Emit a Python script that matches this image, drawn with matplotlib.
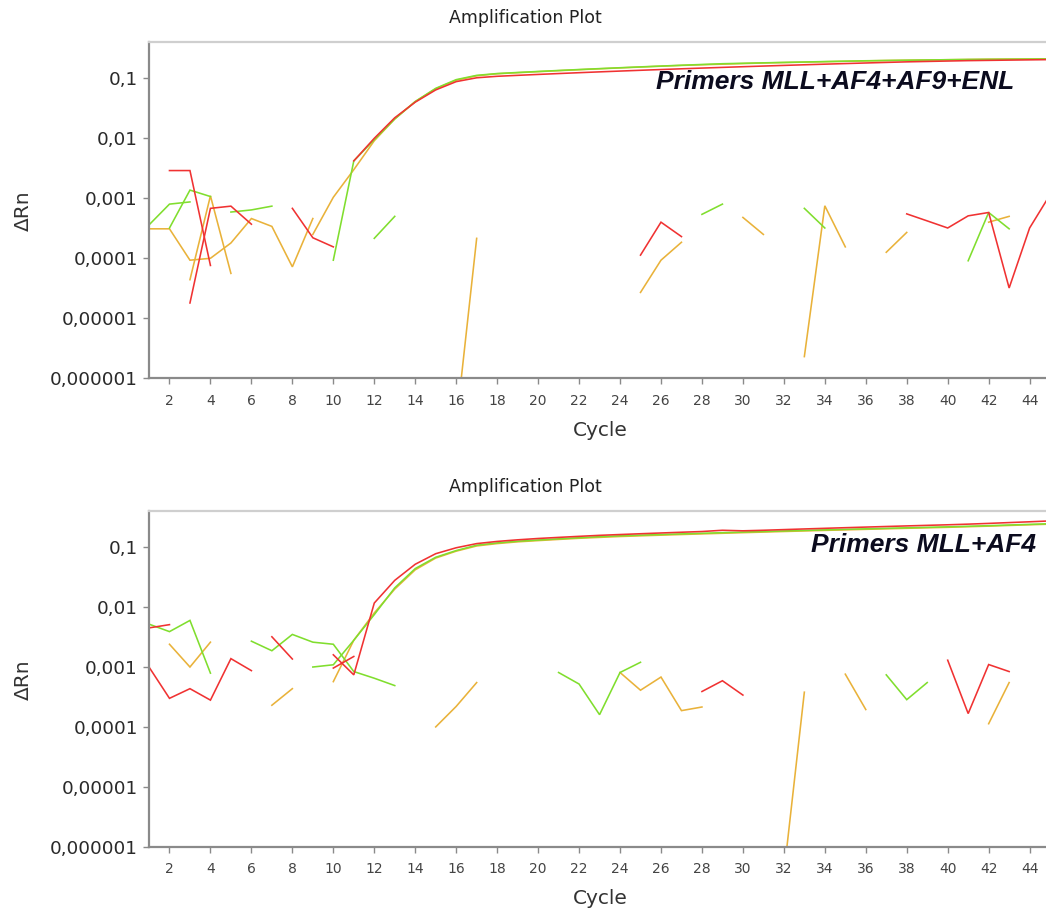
import numpy as np
import matplotlib
matplotlib.use("Agg")
import matplotlib.pyplot as plt
from matplotlib.ticker import FixedLocator, NullLocator, FixedFormatter

NA = None
cycles = list(range(1, 46))
x_ticks = list(range(2, 45, 2))
y_ticks = [1e-6, 1e-5, 1e-4, 1e-3, 1e-2, 1e-1]
y_tick_labels = ["0,000001", "0,00001", "0,0001", "0,001", "0,01", "0,1"]
plot_title = "Amplification Plot"
x_label = "Cycle"
y_label = "ΔRn"
panel_notes = ["Primers MLL+AF4+AF9+ENL", "Primers MLL+AF4"]

# ---------------- top panel (MLL+AF4+AF9+ENL) ----------------
top_red_1 = [NA, 2.9e-3, 2.9e-3, 7.6e-5, NA, NA, NA, NA, NA, NA,
             NA, NA, NA, NA, NA, NA, NA, NA, NA, NA,
             NA, NA, NA, NA, 1.13e-4, 4.0e-4, 2.3e-4, NA, NA, NA,
             NA, NA, NA, NA, NA, NA, NA, NA, NA, NA,
             NA, NA, NA, NA, NA]
top_red_2 = [NA, NA, 1.8e-5, 6.8e-4, 7.4e-4, 3.7e-4, NA, 6.8e-4, 2.2e-4, 1.55e-4,
             NA, NA, NA, NA, NA, NA, NA, NA, NA, NA,
             NA, NA, NA, NA, NA, NA, NA, NA, NA, NA,
             NA, NA, NA, NA, NA, NA, NA, 5.5e-4, 4.2e-4, 3.2e-4,
             5.1e-4, 5.8e-4, 3.2e-5, 3.2e-4, 1.15e-3]
top_red_amp = [NA, NA, NA, NA, NA, NA, NA, NA, NA, NA,
               0.0042, 0.0100, 0.022, 0.040, 0.064, 0.088, 0.102, 0.108, 0.112, 0.116,
               0.120, 0.124, 0.128, 0.132, 0.136, 0.140, 0.144, 0.148, 0.152, 0.156,
               0.160, 0.164, 0.168, 0.172, 0.176, 0.180, 0.184, 0.188, 0.191, 0.194,
               0.197, 0.199, 0.201, 0.203, 0.205]
top_green_1 = [3.6e-4, 8.0e-4, 8.7e-4, NA, 5.9e-4, 6.4e-4, 7.4e-4, NA, NA, NA,
               NA, 2.15e-4, 5.0e-4, NA, NA, NA, NA, NA, NA, NA,
               NA, NA, NA, NA, NA, NA, NA, 5.4e-4, 8.0e-4, NA,
               NA, NA, 6.8e-4, 3.2e-4, NA, NA, NA, NA, NA, NA,
               9.1e-5, 5.8e-4, 3.1e-4, NA, NA]
top_green_amp = [NA, 3.2e-4, 1.37e-3, 1.07e-3, NA, NA, NA, NA, NA, 9.3e-5,
                 0.0042, 0.0095, 0.021, 0.041, 0.068, 0.095, 0.112, 0.120, 0.125, 0.130,
                 0.135, 0.140, 0.145, 0.150, 0.155, 0.160, 0.165, 0.170, 0.175, 0.178,
                 0.181, 0.184, 0.187, 0.190, 0.193, 0.196, 0.198, 0.200, 0.202, 0.204,
                 0.206, 0.207, 0.208, 0.209, 0.210]
top_orange_1 = [3.1e-4, 3.1e-4, 9.3e-5, 1.0e-4, 1.8e-4, 4.6e-4, 3.4e-4, 7.2e-5, 4.6e-4, NA,
                NA, NA, NA, NA, NA, 1.7e-7, 2.15e-4, NA, NA, NA,
                NA, NA, NA, NA, 2.7e-5, 9.3e-5, 1.85e-4, NA, NA, 4.8e-4,
                2.5e-4, NA, 2.3e-6, 7.5e-4, 1.55e-4, NA, 1.26e-4, 2.7e-4, NA, NA,
                NA, 4.0e-4, 5.0e-4, NA, NA]
top_orange_amp = [NA, NA, 4.4e-5, 1.1e-3, 5.6e-5, NA, NA, NA, 2.5e-4, 1.04e-3,
                  0.0030, 0.0091, 0.021, 0.041, 0.067, 0.093, 0.110, 0.119, 0.124, 0.129,
                  0.134, 0.139, 0.144, 0.149, 0.154, 0.159, 0.164, 0.168, 0.172, 0.176,
                  0.180, 0.183, 0.186, 0.189, 0.192, 0.195, 0.198, 0.200, 0.202, 0.204,
                  0.206, 0.208, 0.209, 0.210, 0.211]

# ---------------- bottom panel (MLL+AF4) ----------------
bot_red_amp = [0.0045, 0.0051, NA, NA, NA, NA, 0.0032, 0.00136, NA, 0.0016,
               7.4e-4, 0.0117, 0.028, 0.052, 0.078, 0.098, 0.115, 0.125, 0.133, 0.140,
               0.146, 0.152, 0.158, 0.163, 0.168, 0.173, 0.178, 0.183, 0.192, 0.188,
               0.192, 0.197, 0.202, 0.207, 0.212, 0.217, 0.222, 0.227, 0.232, 0.237,
               0.243, 0.250, 0.258, 0.266, 0.275]
bot_red_2 = [0.0010, 3.0e-4, 4.35e-4, 2.8e-4, 1.38e-3, 8.7e-4, NA, NA, NA, 9.6e-4,
             1.5e-3, NA, NA, NA, NA, NA, NA, NA, NA, NA,
             NA, NA, NA, NA, NA, NA, NA, 3.9e-4, 5.9e-4, 3.4e-4,
             NA, NA, NA, NA, NA, NA, NA, NA, NA, 1.3e-3,
             1.67e-4, 1.1e-3, 8.4e-4, NA, NA]
bot_green_1 = [0.0052, 0.0039, 0.0060, 7.9e-4, NA, 0.0027, 0.00187, 0.0035, 0.0026, 0.0024,
               8.4e-4, 6.5e-4, 4.9e-4, NA, NA, NA, NA, NA, NA, NA,
               8.1e-4, 5.2e-4, 1.6e-4, 8.1e-4, 1.2e-3, NA, NA, NA, NA, NA,
               NA, NA, NA, NA, NA, NA, 7.4e-4, 2.85e-4, 5.5e-4, NA,
               NA, NA, NA, NA, NA]
bot_green_amp = [NA, NA, NA, NA, NA, NA, NA, NA, 0.0010, 0.00109,
                 0.0028, 0.0075, 0.021, 0.044, 0.068, 0.088, 0.108, 0.118, 0.126, 0.132,
                 0.138, 0.144, 0.150, 0.155, 0.159, 0.163, 0.167, 0.171, 0.175, 0.179,
                 0.183, 0.187, 0.191, 0.195, 0.199, 0.203, 0.207, 0.211, 0.215, 0.219,
                 0.224, 0.229, 0.235, 0.241, 0.247]
bot_orange_1 = [NA, 0.0024, 0.0010, 0.0026, NA, NA, 2.3e-4, 4.35e-4, NA, NA,
                NA, NA, NA, NA, 1.0e-4, 2.2e-4, 5.5e-4, NA, NA, NA,
                NA, NA, NA, 8.1e-4, 4.1e-4, 6.8e-4, 1.87e-4, 2.15e-4, NA, NA,
                NA, 3.5e-7, 3.8e-4, NA, 7.6e-4, 1.95e-4, NA, NA, NA, NA,
                NA, 1.13e-4, 5.5e-4, NA, NA]
bot_orange_amp = [NA, NA, NA, NA, NA, NA, NA, NA, NA, 5.7e-4,
                  0.0028, 0.0080, 0.020, 0.042, 0.066, 0.086, 0.105, 0.115, 0.123, 0.129,
                  0.135, 0.141, 0.146, 0.151, 0.155, 0.159, 0.163, 0.167, 0.171, 0.175,
                  0.179, 0.183, 0.187, 0.191, 0.195, 0.199, 0.203, 0.207, 0.211, 0.215,
                  0.220, 0.225, 0.231, 0.237, 0.243]

RED = "#f03232"
GREEN = "#80de2e"
ORANGE = "#e9b23a"

panels = [
    [(top_orange_1, ORANGE), (top_orange_amp, ORANGE),
     (top_green_1, GREEN), (top_green_amp, GREEN),
     (top_red_1, RED), (top_red_2, RED), (top_red_amp, RED)],
    [(bot_orange_1, ORANGE), (bot_orange_amp, ORANGE),
     (bot_green_1, GREEN), (bot_green_amp, GREEN),
     (bot_red_2, RED), (bot_red_amp, RED)],
]

W, H = 1046, 910
fig = plt.figure(figsize=(W / 100, H / 100), dpi=100)
fig.patch.set_facecolor("white")

# pixel geometry of each panel: (top, bottom) in image rows
geo = [(42, 378.3), (511, 846.7)]
left_px = 149
note_pos = [(1014, 82), (1036, 545)]

for i, (series, (ytop, ybot)) in enumerate(zip(panels, geo)):
    ax = fig.add_axes([left_px / W, 1 - ybot / H, (W - left_px) / W, (ybot - ytop) / H])
    for vals, col in series:
        y = np.array([np.nan if v is None else v for v in vals], dtype=float)
        ax.plot(cycles, y, color=col, lw=1.15, solid_joinstyle="miter")
    ax.set_yscale("log")
    ax.set_ylim(1e-6, 0.4027)
    ax.set_xlim(1.0, 44.8)
    ax.yaxis.set_major_locator(FixedLocator(y_ticks))
    ax.yaxis.set_major_formatter(FixedFormatter(y_tick_labels))
    ax.yaxis.set_minor_locator(NullLocator())
    ax.xaxis.set_major_locator(FixedLocator(x_ticks))
    ax.xaxis.set_minor_locator(NullLocator())
    ax.tick_params(axis="both", direction="out", length=4, width=1.0,
                   color="#8a8a8a", labelcolor="#2a2a2a")
    ax.tick_params(axis="y", labelsize=13.3, pad=4)
    ax.tick_params(axis="x", labelsize=10, pad=7, labelcolor="#444444")
    for s in ("left", "bottom"):
        ax.spines[s].set_color("#8a8a8a")
        ax.spines[s].set_linewidth(1.6)
    ax.spines["top"].set_color("#cfcfcf")
    ax.spines["top"].set_linewidth(1.6)
    ax.spines["right"].set_visible(False)

    fig.text(525 / W, 1 - (ytop - 24) / H, plot_title, ha="center", va="center",
             fontsize=12.5, color="#222222")
    fig.text(600 / W, 1 - (ybot + 52) / H, x_label, ha="center", va="center",
             fontsize=14.5, color="#333333")
    fig.text(23 / W, 1 - (ytop + 169) / H, y_label, ha="center", va="center",
             rotation=90, fontsize=14.5, color="#333333")
    nx, ny = note_pos[i]
    fig.text(nx / W, 1 - ny / H, panel_notes[i], ha="right", va="center",
             fontsize=19, fontweight="bold", fontstyle="italic",
             family="Liberation Sans", color="#0b0b1e")

fig.savefig("out.png", dpi=100, facecolor="white")
